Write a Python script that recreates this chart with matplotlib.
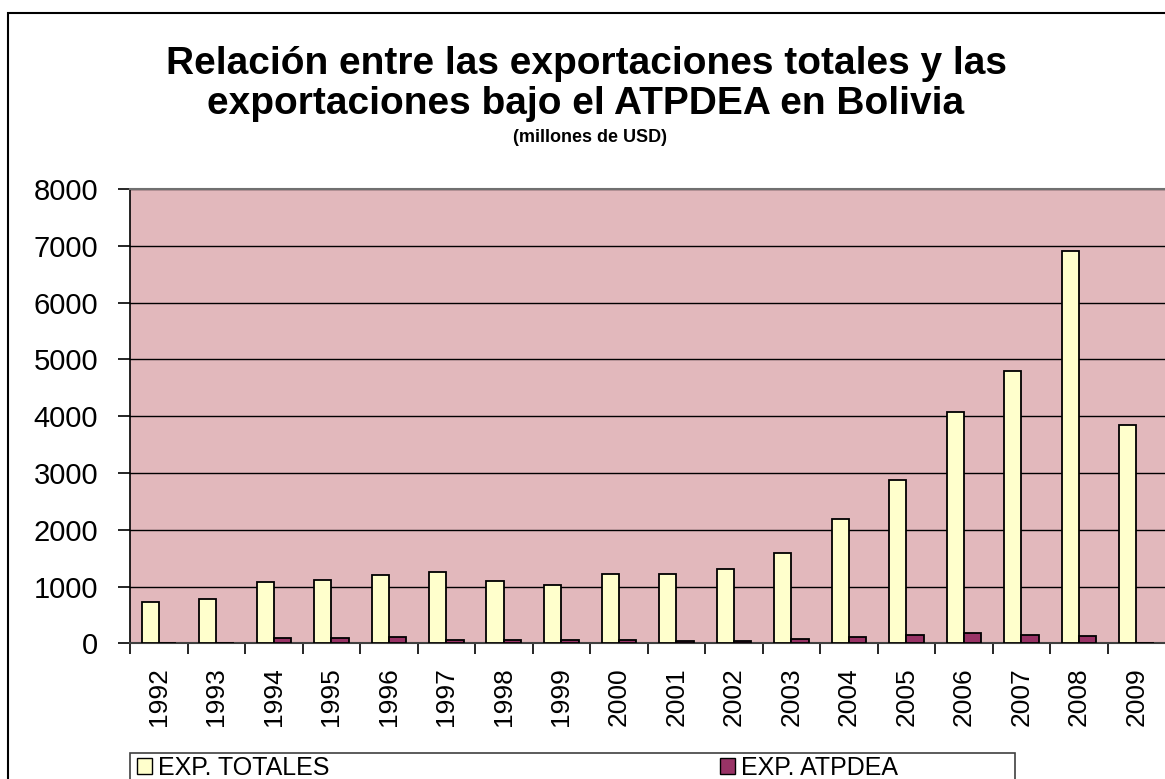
import matplotlib.pyplot as plt
import numpy as np
from matplotlib.patches import Rectangle, Patch

years = ['1992', '1993', '1994', '1995', '1996', '1997', '1998', '1999', '2000',
         '2001', '2002', '2003', '2004', '2005', '2006', '2007', '2008', '2009']
totales = [730, 772, 1075, 1122, 1210, 1250, 1098, 1035, 1228,
           1228, 1316, 1589, 2194, 2871, 4076, 4794, 6912, 3841]
atpdea = [0, 10, 88, 85, 105, 63, 63, 63, 58,
          35, 35, 82, 105, 150, 175, 150, 128, 0]
yticks = [0, 1000, 2000, 3000, 4000, 5000, 6000, 7000, 8000]

plt.rcParams['font.family'] = ['Liberation Sans', 'DejaVu Sans']

W, H = 1165, 779
fig = plt.figure(figsize=(W / 100, H / 100), dpi=100)
fig.patch.set_facecolor('white')

# outer chart frame (cut by the image edge on the right and bottom)
fig.add_artist(Rectangle((8 / W, -0.05), 1.1, 1 - 13 / H + 0.05, transform=fig.transFigure,
                         fill=False, edgecolor='black', lw=1.5))

ax = fig.add_axes([130 / W, 1 - 643.3 / H, 1035 / W, (643.3 - 189) / H])
ax.set_facecolor('#E2B8BC')

x = np.arange(len(years))
w = 0.3
ax.bar(x - w / 2, totales, w, color='#FFFFCC', edgecolor='black', lw=1.3, zorder=3)
ax.bar(x + w / 2, atpdea, w, color='#993366', edgecolor='black', lw=1.3, zorder=3)

ax.set_xlim(-0.5, len(years) - 0.5)
ax.set_ylim(0, 8000)
ax.set_yticks(yticks)
ax.set_yticklabels([str(v) for v in yticks], fontsize=21)
ax.yaxis.grid(True, color='black', lw=1)
ax.set_axisbelow(True)

ax.set_xticks(x - 0.5, minor=False)
ax.set_xticklabels([])
ax.set_xticks(x, minor=True)
ax.set_xticklabels(years, minor=True, rotation=90, fontsize=19)
ax.tick_params(axis='x', which='major', direction='out', length=8, width=1.2, color='black')
ax.tick_params(axis='x', which='minor', length=0, pad=17)
ax.tick_params(axis='y', direction='out', length=9, width=1.2, pad=14, color='black')

ax.spines['left'].set_color('black')
ax.spines['left'].set_linewidth(1.2)
ax.spines['bottom'].set_color('#404040')
ax.spines['bottom'].set_linewidth(1.5)
ax.spines['top'].set_color('#707070')
ax.spines['top'].set_linewidth(1.5)
ax.spines['right'].set_visible(False)

fig.text(586 / W, 1 - 64 / H, 'Relación entre las exportaciones totales y las',
         ha='center', va='center', fontsize=28, fontweight='bold')
fig.text(586 / W, 1 - 104 / H, 'exportaciones bajo el ATPDEA en Bolivia',
         ha='center', va='center', fontsize=28, fontweight='bold')
fig.text(590 / W, 1 - 137 / H, '(millones de USD)',
         ha='center', va='center', fontsize=13, fontweight='bold')

# legend box (runs off the bottom of the picture)
fig.add_artist(Rectangle((130 / W, -0.05), (1015 - 130) / W, 0.05 + 1 - 753 / H,
                         transform=fig.transFigure, fill=False, edgecolor='#404040', lw=1.2))
handles = [Patch(facecolor='#FFFFCC', edgecolor='black', label='EXP. TOTALES'),
           Patch(facecolor='#993366', edgecolor='black', label='EXP. ATPDEA')]
fig.legend(handles=handles, loc='center left', bbox_to_anchor=(137 / W, 1 - 768 / H),
           ncol=2, frameon=False, fontsize=18, handlelength=0.6, handleheight=0.6,
           handletextpad=0.25, columnspacing=15.6, borderpad=0, borderaxespad=0)

fig.savefig('out.png', dpi=100)
